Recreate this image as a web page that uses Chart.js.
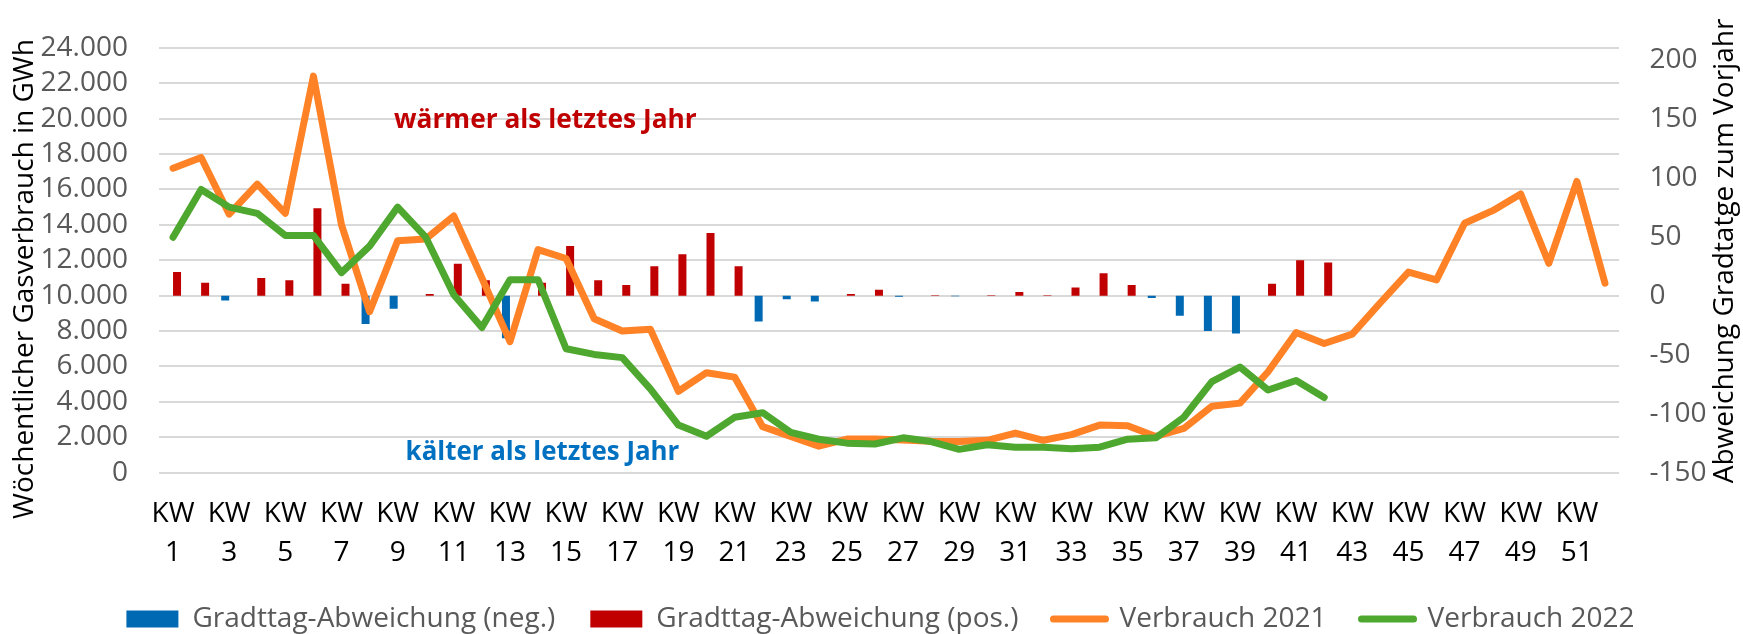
<!DOCTYPE html>
<html><head><meta charset="utf-8">
<script src="https://cdn.jsdelivr.net/npm/chart.js@4"></script>
<style>html,body{margin:0;padding:0;background:#fff;} canvas{display:block;}</style>
</head><body>
<canvas id="c" width="1743" height="634"></canvas>
<script>
const categories = ['KW 1','KW 2','KW 3','KW 4','KW 5','KW 6','KW 7','KW 8','KW 9','KW 10','KW 11','KW 12','KW 13','KW 14','KW 15','KW 16','KW 17','KW 18','KW 19','KW 20','KW 21','KW 22','KW 23','KW 24','KW 25','KW 26','KW 27','KW 28','KW 29','KW 30','KW 31','KW 32','KW 33','KW 34','KW 35','KW 36','KW 37','KW 38','KW 39','KW 40','KW 41','KW 42','KW 43','KW 44','KW 45','KW 46','KW 47','KW 48','KW 49','KW 50','KW 51','KW 52'];

const verbrauch2021 = [17200,17800,14600,16300,14650,22400,14000,9100,13100,13200,14500,11000,7400,12600,12100,8700,8000,8100,4600,5650,5400,2600,2050,1500,1900,1900,1850,1780,1760,1830,2240,1830,2150,2690,2650,2050,2500,3750,3930,5700,7920,7300,7830,9600,11330,10890,14090,14800,15740,11830,16450,10710];

const verbrauch2022 = [13300,16000,15000,14650,13400,13400,11300,12800,15000,13300,10050,8200,10900,10900,7000,6680,6500,4730,2690,2060,3130,3390,2280,1890,1670,1620,1970,1760,1320,1580,1440,1440,1350,1440,1890,1970,3130,5140,5970,4670,5210,4250,null,null,null,null,null,null,null,null,null,null];

const gradtagNeg = [null,null,-4,null,null,null,null,-24,-11,null,null,null,-36,null,null,null,null,null,null,null,null,-22,-3,-5,null,null,-1,null,-0.4,null,null,null,null,null,null,-2,-17,-30,-32,null,null,null,null,null,null,null,null,null,null,null,null,null];

const gradtagPos = [20,11,null,15,13,74,10,null,null,1.5,27,13,null,11,42,13,9,25,35,53,25,null,null,null,1.5,5,null,0.4,null,0.4,3,0.4,7,19,9,null,null,null,null,10,30,28,null,null,null,null,null,null,null,null,null,null];

const seriesLabels = ['Gradttag-Abweichung (neg.)','Gradttag-Abweichung (pos.)','Verbrauch 2021','Verbrauch 2022'];
const leftAxisTitle = 'Wöchentlicher Gasverbrauch in GWh';
const rightAxisTitle = 'Abweichung Gradtatge zum Vorjahr';
const notes = [
  {text:'wärmer als letztes Jahr', color:'#C00000', x:394, y:127.7, w:303},
  {text:'kälter als letztes Jahr', color:'#0070C0', x:405.6, y:460, w:274}
];
const FONT = "'Open Sans'";

Chart.defaults.font.family = FONT;

const fmt = v => String(v).replace(/\B(?=(\d{3})+(?!\d))/g, '.');

const textPlugin = {
  id: 'texts',
  afterLayout(chart) {
    if (chart.legend) { chart.legend.left += 9; chart.legend.right += 9; }
  },
  afterDraw(chart) {
    const ctx = chart.ctx;
    ctx.save();
    ctx.textBaseline = 'alphabetic';
    ctx.textAlign = 'left';
    notes.forEach(n => {
      ctx.font = `bold 28px ${FONT}`;
      const m = ctx.measureText(n.text).width;
      const size = 28 * n.w / m;
      ctx.font = `bold ${size}px ${FONT}`;
      ctx.fillStyle = n.color;
      ctx.fillText(n.text, n.x, n.y);
    });
    // axis titles, both reading bottom-to-top
    ctx.font = `28px ${FONT}`;
    ctx.fillStyle = '#000';
    ctx.textAlign = 'center';
    ctx.textBaseline = 'middle';
    [[leftAxisTitle, 25, 279], [rightAxisTitle, 1725, 251]].forEach(([t, x, y]) => {
      ctx.save();
      ctx.translate(x, y);
      ctx.rotate(-Math.PI / 2);
      ctx.fillText(t, 0, 0);
      ctx.restore();
    });
    ctx.restore();
  }
};

new Chart(document.getElementById('c'), {
  data: {
    labels: categories,
    datasets: [
      {type:'bar', label: seriesLabels[0], data: gradtagNeg, yAxisID:'y1', backgroundColor:'#0069B4', order:2, barPercentage:1, categoryPercentage:0.57},
      {type:'bar', label: seriesLabels[1], data: gradtagPos, yAxisID:'y1', backgroundColor:'#C00000', order:2, barPercentage:1, categoryPercentage:0.57},
      {type:'line', label: seriesLabels[2], data: verbrauch2021, yAxisID:'y', borderColor:'#FF8226', backgroundColor:'#FF8226', borderWidth:7, pointRadius:0, tension:0, borderJoinStyle:'round', borderCapStyle:'round', order:1},
      {type:'line', label: seriesLabels[3], data: verbrauch2022, yAxisID:'y', borderColor:'#4EA72E', backgroundColor:'#4EA72E', borderWidth:7, pointRadius:0, tension:0, borderJoinStyle:'round', borderCapStyle:'round', order:0}
    ]
  },
  options: {
    responsive:false,
    animation:false,
    devicePixelRatio:1,
    layout:{padding:{top:23.3, left:0, right:0, bottom:-9}},
    plugins:{
      tooltip:{enabled:false},
      legend:{
        position:'bottom',
        labels:{
          usePointStyle:true, pointStyleWidth:52, boxHeight:17, padding:35,
          font:{size:28}, color:'#595959',
          sort:(a,b)=>a.datasetIndex-b.datasetIndex,
          generateLabels(chart){
            return chart.data.datasets.map((ds,i)=>{
              const isLine = ds.type==='line';
              return {text:ds.label, datasetIndex:i, fillStyle:ds.backgroundColor, strokeStyle:ds.backgroundColor,
                lineWidth: isLine?7:0, lineCap:'round', pointStyle: isLine?'line':'rect', fontColor:'#595959', hidden:false};
            });
          }
        }
      }
    },
    scales:{
      x:{
        grid:{display:false, drawTicks:false},
        border:{display:false},
        ticks:{autoSkip:false, maxRotation:0, minRotation:0, padding:21.8, color:'#000', font:{size:28, lineHeight:39/28},
          callback(v, i){ return i%2===0 ? categories[i].split(' ') : ''; }},
        afterFit(s){ s.height = 97.3; }
      },
      y:{
        position:'left', min:0, max:24000,
        ticks:{stepSize:2000, maxTicksLimit:20, autoSkip:false, padding:31, color:'#595959', font:{size:28}, callback:v=>fmt(v)},
        grid:{color:'#D9D9D9', lineWidth:2, drawTicks:false},
        border:{display:false},
        afterFit(s){ s.width = 159; }
      },
      y1:{
        position:'right', min:-150, max:210,
        ticks:{stepSize:50, maxTicksLimit:20, autoSkip:false, includeBounds:false, padding:30.5, color:'#595959', font:{size:28}},
        grid:{display:false, drawTicks:false},
        border:{display:false},
        afterFit(s){ s.width = 124; }
      }
    }
  },
  plugins:[textPlugin]
});
</script>
</body></html>
